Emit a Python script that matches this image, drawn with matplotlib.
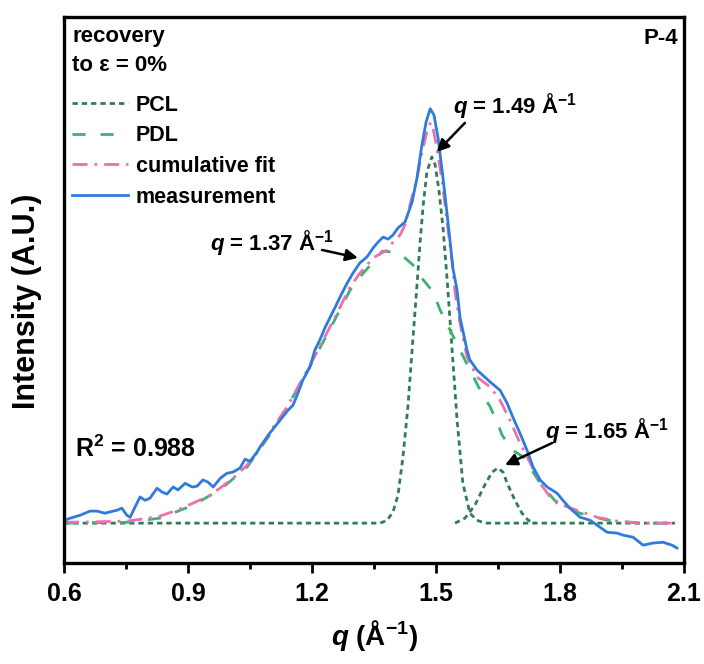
import matplotlib
matplotlib.use("Agg")
import matplotlib.pyplot as plt
from matplotlib.ticker import MultipleLocator, NullLocator

plt.rcParams['font.family'] = ['Liberation Sans', 'DejaVu Sans']
plt.rcParams['font.weight'] = 'bold'
plt.rcParams['mathtext.fontset'] = 'custom'
plt.rcParams['mathtext.rm'] = 'Liberation Sans:bold'
plt.rcParams['mathtext.it'] = 'Liberation Sans:italic:bold'
plt.rcParams['mathtext.bf'] = 'Liberation Sans:bold'
plt.rcParams['lines.scale_dashes'] = False

# measured WAXS profile
q_meas = [0.602, 0.615, 0.639, 0.663, 0.680, 0.699, 0.711, 0.728, 0.740, 0.752,
          0.760, 0.772, 0.784, 0.796, 0.808, 0.825, 0.837, 0.849, 0.864, 0.876,
          0.893, 0.910, 0.922, 0.936, 0.948, 0.961, 0.978, 0.994, 1.009, 1.026,
          1.038, 1.050, 1.067, 1.074, 1.098, 1.123, 1.142, 1.154, 1.166, 1.178,
          1.195, 1.207, 1.219, 1.232, 1.244, 1.256, 1.268, 1.285, 1.299, 1.316,
          1.333, 1.348, 1.360, 1.372, 1.384, 1.396, 1.408, 1.425, 1.442, 1.454,
          1.466, 1.476, 1.486, 1.495, 1.505, 1.517, 1.529, 1.541, 1.551, 1.558,
          1.575, 1.582, 1.599, 1.631, 1.655, 1.672, 1.686, 1.703, 1.720, 1.735,
          1.752, 1.769, 1.793, 1.807, 1.824, 1.849, 1.873, 1.897, 1.914, 1.938,
          1.953, 1.977, 2.001, 2.025, 2.049, 2.071, 2.083]
i_meas = [0.007, 0.012, 0.019, 0.029, 0.029, 0.024, 0.027, 0.031, 0.036, 0.019,
          0.014, 0.039, 0.063, 0.055, 0.060, 0.084, 0.075, 0.070, 0.087, 0.080,
          0.096, 0.087, 0.089, 0.104, 0.099, 0.087, 0.108, 0.120, 0.123, 0.133,
          0.154, 0.149, 0.171, 0.183, 0.217, 0.248, 0.272, 0.284, 0.313, 0.345,
          0.376, 0.417, 0.441, 0.472, 0.496, 0.520, 0.545, 0.578, 0.602, 0.627,
          0.641, 0.663, 0.677, 0.689, 0.684, 0.694, 0.711, 0.725, 0.773, 0.831,
          0.911, 0.966, 0.998, 0.983, 0.928, 0.831, 0.725, 0.614, 0.561, 0.496,
          0.417, 0.393, 0.369, 0.340, 0.320, 0.289, 0.255, 0.217, 0.176, 0.135,
          0.104, 0.087, 0.072, 0.055, 0.036, 0.014, 0.007, -0.010, -0.022, -0.024,
          -0.029, -0.034, -0.053, -0.048, -0.046, -0.053, -0.060]

# cumulative fit
q_fit = [0.600, 0.670, 0.752, 0.791, 0.832, 0.873, 0.912, 0.953, 0.977, 1.009,
         1.043, 1.067, 1.106, 1.140, 1.171, 1.202, 1.236, 1.268, 1.292, 1.316,
         1.348, 1.382, 1.396, 1.413, 1.425, 1.437, 1.454, 1.466, 1.478, 1.487,
         1.493, 1.502, 1.515, 1.527, 1.539, 1.546, 1.558, 1.575, 1.599, 1.631,
         1.655, 1.679, 1.703, 1.728, 1.752, 1.776, 1.807, 1.841, 1.890, 1.938,
         1.994, 2.078]
i_fit = [0.002, 0.003, 0.005, 0.010, 0.017, 0.031, 0.048, 0.067, 0.084, 0.108,
         0.140, 0.169, 0.231, 0.280, 0.337, 0.393, 0.458, 0.520, 0.569, 0.602,
         0.639, 0.658, 0.677, 0.694, 0.718, 0.766, 0.831, 0.894, 0.942, 0.965,
         0.950, 0.904, 0.822, 0.725, 0.629, 0.557, 0.482, 0.400, 0.352, 0.328,
         0.296, 0.248, 0.193, 0.145, 0.096, 0.063, 0.043, 0.031, 0.014, 0.005,
         0.000, 0.000]

# PDL component (broad peak at 1.37)
q_pdl = [0.600, 0.752, 0.832, 0.912, 0.977, 1.043, 1.106, 1.171, 1.236, 1.292,
         1.316, 1.348, 1.370, 1.396, 1.420, 1.444, 1.469, 1.493, 1.510, 1.534,
         1.558, 1.582, 1.607, 1.631, 1.648, 1.660, 1.684, 1.711, 1.752, 1.793,
         1.848, 1.914, 1.994, 2.078]
i_pdl = [0.000, 0.002, 0.012, 0.043, 0.080, 0.135, 0.224, 0.333, 0.453, 0.561,
         0.593, 0.629, 0.655, 0.653, 0.643, 0.622, 0.586, 0.557, 0.513, 0.465,
         0.417, 0.369, 0.320, 0.280, 0.243, 0.212, 0.176, 0.160, 0.096, 0.048,
         0.024, 0.007, 0.000, 0.000]

# PCL component (crystal peak at 1.49)
q_pcl = [0.600, 1.365, 1.382, 1.396, 1.408, 1.420, 1.432, 1.444, 1.454, 1.461,
         1.469, 1.478, 1.490, 1.498, 1.507, 1.517, 1.527, 1.539, 1.551, 1.565,
         1.582, 1.599, 1.619, 2.078]
i_pcl = [0.000, 0.000, 0.007, 0.027, 0.067, 0.159, 0.280, 0.441, 0.573, 0.670,
         0.766, 0.846, 0.882, 0.863, 0.802, 0.711, 0.586, 0.417, 0.248, 0.096,
         0.024, 0.007, 0.000, 0.000]

# PCL component (peak at 1.65)
q_pcl2 = [1.546, 1.570, 1.594, 1.619, 1.636, 1.650, 1.662, 1.674, 1.691, 1.708,
          1.723, 1.740]
i_pcl2 = [0.000, 0.012, 0.043, 0.094, 0.123, 0.133, 0.123, 0.092, 0.055, 0.024,
          0.007, 0.000]

c_pcl = '#2f7d55'
c_pdl = '#3bb273'
c_fit = '#ee6fae'
c_meas = '#2f7bdc'

fig = plt.figure(figsize=(7.04, 6.64), dpi=100)
ax = fig.add_axes([64 / 704, 1 - 563 / 664, 620 / 704, 546 / 664])

ax.plot(q_pcl, i_pcl, color=c_pcl, lw=2, dashes=(3.8, 2.9), label='PCL')
ax.plot(q_pcl2, i_pcl2, color=c_pcl, lw=2, dashes=(3.8, 2.9))
ax.plot(q_pdl, i_pdl, color=c_pdl, lw=2, dashes=(9.4, 10.8), label='PDL')
ax.plot(q_fit, i_fit, color=c_fit, lw=2, dashes=(10.8, 5.0, 2.0, 5.0),
        label='cumulative fit')
ax.plot(q_meas, i_meas, color=c_meas, lw=2, label='measurement')

ax.set_xlim(0.6, 2.1)
ax.set_ylim(-0.096, 1.219)
ax.xaxis.set_major_locator(MultipleLocator(0.3))
ax.xaxis.set_minor_locator(MultipleLocator(0.15))
ax.yaxis.set_major_locator(NullLocator())
ax.tick_params(axis='x', which='major', length=7.5, width=2, labelsize=18, pad=6)
ax.tick_params(axis='x', which='minor', length=4, width=2)
for s in ax.spines.values():
    s.set_linewidth(2.4)

ax.set_xlabel(r'$q$ (Å$^{-1}$)', fontsize=20, fontweight='bold')
ax.xaxis.set_label_coords(0.5, -0.1)
ax.set_ylabel('Intensity (A.U.)', fontsize=22, fontweight='bold')
ax.yaxis.set_label_coords(-0.035, 0.48)

leg = ax.legend(loc='upper left', bbox_to_anchor=(0.013, 0.858), frameon=False,
                fontsize=15.5, handlelength=2.6, handletextpad=0.35,
                labelspacing=0.45, borderpad=0, borderaxespad=0)

ax.text(0.013, 0.984, 'recovery\nto ε = 0%', transform=ax.transAxes,
        fontsize=16, fontweight='bold', va='top', ha='left', linespacing=1.5)
ax.text(0.990, 0.960, 'P-4', transform=ax.transAxes, fontsize=16,
        fontweight='bold', va='center', ha='right')
ax.text(0.018, 0.209, r'R$^{2}$ = 0.988', transform=ax.transAxes, fontsize=18,
        fontweight='bold', va='center', ha='left')

arrow = dict(arrowstyle='-|>', color='black', lw=1.8, mutation_scale=18,
             shrinkA=0, shrinkB=0)
ax.text(1.691, 1.005, r'$q$ = 1.49 Å$^{-1}$', fontsize=16, ha='center', va='center')
ax.annotate('', xy=(1.502, 0.894), xytext=(1.570, 0.964), arrowprops=arrow)
ax.text(1.103, 0.675, r'$q$ = 1.37 Å$^{-1}$', fontsize=16, ha='center', va='center')
ax.annotate('', xy=(1.311, 0.639), xytext=(1.224, 0.658), arrowprops=arrow)
ax.text(1.914, 0.222, r'$q$ = 1.65 Å$^{-1}$', fontsize=16, ha='center', va='center')
ax.annotate('', xy=(1.667, 0.140), xytext=(1.781, 0.193), arrowprops=arrow)

fig.savefig('out.png', dpi=100)
